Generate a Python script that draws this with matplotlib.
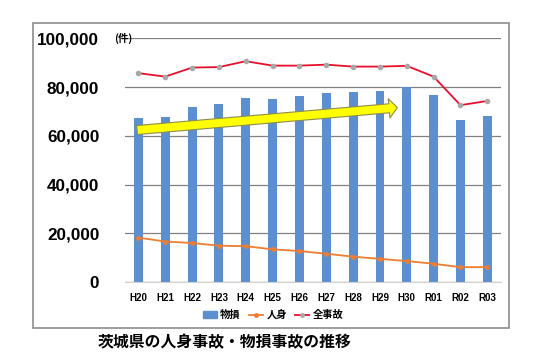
import numpy as np
import matplotlib
matplotlib.use('Agg')
import matplotlib.pyplot as plt
from matplotlib.patches import Rectangle, Patch
from matplotlib.lines import Line2D
from matplotlib.ticker import FuncFormatter

plt.rcParams['font.family'] = ['Liberation Sans', 'Noto Sans CJK JP', 'DejaVu Sans']

years = ['H20', 'H21', 'H22', 'H23', 'H24', 'H25', 'H26', 'H27',
         'H28', 'H29', 'H30', 'R01', 'R02', 'R03']
property_dmg = [67300, 67800, 71800, 73200, 75700, 75300, 76300, 77500,
                77900, 78600, 80000, 76700, 66400, 68200]
injury = [18300, 16700, 16100, 15000, 14800, 13500, 12800, 11700,
          10500, 9600, 8700, 7600, 6200, 6200]
total = [85700, 84300, 88000, 88200, 90600, 88800, 88800, 89200,
         88400, 88400, 88700, 84300, 72600, 74300]

blue = '#5B8FD0'
orange = '#ED7D31'
red = '#E8102A'

fig = plt.figure(figsize=(5.6, 3.64), dpi=100)
ax = fig.add_axes([0.2232, 0.2245, 0.6709, 0.6703])

x = np.arange(len(years))
ax.bar(x, property_dmg, width=0.33, color=blue, zorder=2)
ax.plot(x, injury, color=orange, lw=1.3, marker='o', ms=2.5, zorder=3)
ax.plot(x, total, color=red, lw=1.3, marker='o', ms=3, mfc='#A8A8A8', mec='#A8A8A8', zorder=3)

# trend arrow
ax.annotate('', xy=(9.65, 71600), xytext=(-0.05, 62400),
            arrowprops=dict(arrowstyle='simple,head_length=0.6,head_width=1.4,tail_width=0.65',
                            fc='#FFFF00', ec='#8C8C50', lw=0.8,
                            shrinkA=0, shrinkB=0, mutation_scale=10),
            zorder=4)

ax.set_xlim(-0.5, len(years) - 0.5)
ax.set_ylim(0, 100000)
ax.set_yticks(np.arange(0, 100001, 20000))
ax.yaxis.set_major_formatter(FuncFormatter(lambda v, p: f'{int(v):,}'))
ax.set_xticks(x)
ax.set_xticklabels(years, fontsize=7, fontweight='bold')
for t in ax.get_yticklabels():
    t.set_fontsize(12.3)
    t.set_fontweight('bold')
ax.tick_params(axis='both', length=0)
ax.tick_params(axis='y', pad=18.5)
ax.tick_params(axis='x', pad=8)
ax.grid(axis='y', color='#808080', lw=0.9, zorder=0)
for s in ['top', 'right', 'left']:
    ax.spines[s].set_visible(False)
ax.spines['bottom'].set_color('#D0D0D0')

ax.text(-0.92, 100000, '(件)', fontsize=7.5, fontweight='bold', va='center', ha='left',
        family=['Noto Sans CJK JP'])

handles = [Patch(color=blue),
           Line2D([], [], color=orange, marker='o', ms=2.5, lw=1.3),
           Line2D([], [], color=red, marker='o', ms=2.5, mfc='#A8A8A8', mec='#A8A8A8', lw=1.3)]
leg = ax.legend(handles, ['物損', '人身', '全事故'], loc='center', bbox_to_anchor=(0.394, -0.134),
                ncol=3, frameon=False, handlelength=1.4, handletextpad=0.3, columnspacing=0.8,
                prop={'family': 'Noto Sans CJK JP', 'size': 7.4, 'weight': 'bold'})

# outer frame
fig.patches.append(Rectangle((33 / 560, 1 - 328 / 364), 476 / 560, 305 / 364,
                             transform=fig.transFigure, fill=False, ec='#8C8C8C', lw=1.2))

fig.text(98 / 560, 1 - 342 / 364, '茨城県の人身事故・物損事故の推移', fontsize=11.4,
         fontweight='bold', va='center', ha='left', family=['Noto Sans CJK JP'])

fig.savefig('out.png', dpi=100)
